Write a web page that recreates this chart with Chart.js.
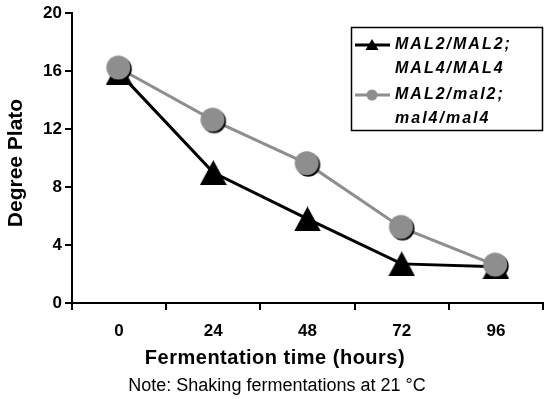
<!DOCTYPE html>
<html>
<head>
<meta charset="utf-8">
<script src="https://cdn.jsdelivr.net/npm/chart.js@4.4.1/dist/chart.umd.min.js"></script>
<style>
  html, body { margin: 0; padding: 0; background: #fff; }
  canvas { display: block; }
</style>
</head>
<body>
<canvas id="fermChart" width="550" height="399"></canvas>
<script>
// values
const hours = ['0', '24', '48', '72', '96'];
const homozygous = [15.9, 9.0, 5.8, 2.7, 2.5];     // MAL2/MAL2; MAL4/MAL4
const heterozygous = [16.2, 12.6, 9.6, 5.2, 2.6];  // MAL2/mal2; mal4/mal4
const yTicks = [0, 4, 8, 12, 16, 20];
const seriesLabels = [['MAL2/MAL2;', 'MAL4/MAL4'], ['MAL2/mal2;', 'mal4/mal4']];

const GREY = '#8e8e8e';
const FONT = '"Liberation Sans", Arial, sans-serif';

// marker images, centred on their bounding box like the original
function triangleMarker(w, h) {
  const c = document.createElement('canvas');
  c.width = w; c.height = h;
  const g = c.getContext('2d');
  g.fillStyle = '#000';
  g.beginPath();
  g.moveTo(w / 2, 0);
  g.lineTo(w, h);
  g.lineTo(0, h);
  g.closePath();
  g.fill();
  return c;
}
function circleMarker(r, shadow) {
  const s = Math.ceil(2 * r + shadow + 2);
  const c = document.createElement('canvas');
  c.width = s; c.height = s;
  const g = c.getContext('2d');
  const cx = s / 2 - shadow / 2;
  g.fillStyle = '#000';
  g.beginPath(); g.arc(cx + shadow, cx + shadow, r, 0, Math.PI * 2); g.fill();
  g.fillStyle = GREY;
  g.beginPath(); g.arc(cx, cx, r, 0, Math.PI * 2); g.fill();
  return c;
}

const textPlugin = {
  id: 'figureText',
  afterDraw(chart) {
    const ctx = chart.ctx;
    ctx.save();
    ctx.fillStyle = '#000';
    ctx.textBaseline = 'middle';
    ctx.textAlign = 'center';

    // axis titles and note
    ctx.font = 'bold 20px ' + FONT;
    ctx.letterSpacing = '0.5px';
    ctx.fillText('Fermentation time (hours)', 275, 358);
    ctx.font = '18px ' + FONT;
    ctx.letterSpacing = '0px';
    ctx.fillText('Note: Shaking fermentations at 21 °C', 277, 386);

    ctx.save();
    ctx.translate(16, 163);
    ctx.rotate(-Math.PI / 2);
    ctx.font = 'bold 21px ' + FONT;
    ctx.fillText('Degree Plato', 0, 0);
    ctx.restore();

    // legend
    ctx.lineWidth = 1.5;
    ctx.strokeStyle = '#000';
    ctx.strokeRect(351.5, 27.5, 191, 103);
    const rows = [45, 95];
    chart.data.datasets.forEach((ds, i) => {
      const y = rows[i];
      ctx.strokeStyle = ds.borderColor;
      ctx.lineWidth = 3;
      ctx.beginPath(); ctx.moveTo(355, y); ctx.lineTo(390, y); ctx.stroke();
      ctx.fillStyle = ds.borderColor;
      ctx.beginPath();
      if (i === 0) {
        ctx.moveTo(372, y - 6); ctx.lineTo(378.5, y + 5); ctx.lineTo(365.5, y + 5); ctx.closePath();
      } else {
        ctx.arc(372, y, 5.5, 0, Math.PI * 2);
      }
      ctx.fill();
      ctx.fillStyle = '#000';
      ctx.textAlign = 'left';
      ctx.font = 'italic bold 16px ' + FONT;
      ctx.letterSpacing = '2px';
      ds.label.forEach((t, k) => ctx.fillText(t, 395, y + k * 23.5));
    });
    ctx.restore();
  }
};

new Chart(document.getElementById('fermChart').getContext('2d'), {
  type: 'line',
  data: {
    labels: hours,
    datasets: [{
      label: seriesLabels[0],
      data: homozygous,
      borderColor: '#000',
      borderWidth: 3,
      pointStyle: triangleMarker(27, 25),
      order: 2
    }, {
      label: seriesLabels[1],
      data: heterozygous,
      borderColor: GREY,
      borderWidth: 3,
      pointStyle: circleMarker(12, 1.5),
      order: 1
    }]
  },
  options: {
    responsive: false,
    animation: false,
    layout: { padding: { top: 12, right: 7, left: 0, bottom: 0 } },
    plugins: { legend: { display: false }, tooltip: { enabled: false } },
    scales: {
      x: {
        offset: true,
        grid: { offset: true, drawOnChartArea: false, drawTicks: true, tickLength: 7, color: '#000', lineWidth: 2 },
        border: { color: '#000', width: 2 },
        ticks: { color: '#000', font: { family: FONT, size: 17, weight: 'bold' }, padding: 11 },
        afterFit: s => { s.height = 96; }
      },
      y: {
        min: 0,
        max: 20,
        afterBuildTicks: s => { s.ticks = yTicks.map(v => ({ value: v })); },
        grid: { drawOnChartArea: false, drawTicks: true, tickLength: 7, color: '#000', lineWidth: 2 },
        border: { color: '#000', width: 2 },
        ticks: { color: '#000', font: { family: FONT, size: 17, weight: 'bold' }, padding: 3 },
        afterFit: s => { s.width = 72; }
      }
    }
  },
  plugins: [textPlugin]
});
</script>
</body>
</html>
